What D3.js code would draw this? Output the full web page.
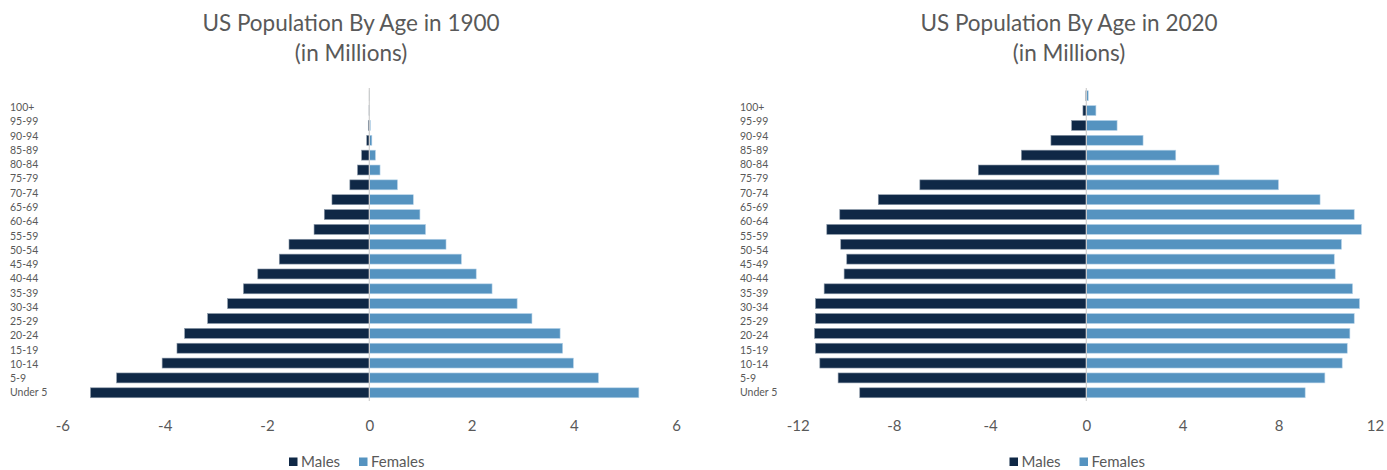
<!DOCTYPE html>
<html>
<head>
<meta charset="utf-8">
<script src="https://cdn.jsdelivr.net/npm/d3@7"></script>
<style>
  body { margin: 0; background: #fff; }
  text { font-family: Lato, "Open Sans", sans-serif; fill: #595959; }
</style>
</head>
<body>
<div id="chart"></div>
<script>
// age groups, youngest first
var ageGroups = ["Under 5", "5-9", "10-14", "15-19", "20-24", "25-29", "30-34", "35-39",
  "40-44", "45-49", "50-54", "55-59", "60-64", "65-69", "70-74", "75-79", "80-84",
  "85-89", "90-94", "95-99", "100+"];

// 1900, millions
var males1900 = [5.45, 4.94, 4.05, 3.76, 3.61, 3.16, 2.77, 2.46, 2.18, 1.76, 1.57,
  1.08, 0.88, 0.73, 0.38, 0.23, 0.15, 0.05, 0.02, 0.005, 0.001];
var females1900 = [5.27, 4.48, 3.99, 3.78, 3.73, 3.18, 2.89, 2.40, 2.09, 1.80, 1.50,
  1.10, 0.99, 0.86, 0.55, 0.21, 0.12, 0.05, 0.02, 0.005, 0.001];

// 2020, millions
var males2020 = [9.42, 10.32, 11.08, 11.26, 11.30, 11.26, 11.26, 10.90, 10.07, 9.96, 10.21,
  10.79, 10.25, 8.65, 6.92, 4.49, 2.70, 1.47, 0.61, 0.14, 0.02];
var females2020 = [9.10, 9.92, 10.64, 10.85, 10.96, 11.14, 11.36, 11.07, 10.35, 10.31, 10.61,
  11.44, 11.14, 9.72, 7.99, 5.52, 3.72, 2.36, 1.28, 0.40, 0.08];

var ticks1900 = [-6, -4, -2, 0, 2, 4, 6];
var ticks2020 = [-12, -8, -4, 0, 4, 8, 12];

var maleColor = "#0f2846";
var femaleColor = "#5593c0";

var svg = d3.select("#chart")
  .append("svg")
  .attr("width", 1387)
  .attr("height", 470);

function drawPyramid(opts) {
  var rows = ageGroups.map(function(a, i) {
    return { age: a, male: opts.males[i], female: opts.females[i] };
  });
  var order = ageGroups.slice().reverse();

  var x = d3.scaleLinear()
    .domain([opts.ticks[0], opts.ticks[opts.ticks.length - 1]])
    .range([opts.x0, opts.x1]);

  // bars
  var y = d3.scaleBand()
    .domain(order)
    .range([88.3, 400.2])
    .paddingInner(0.33)
    .paddingOuter(0.165);

  // category labels sit on their own (slightly tighter) grid
  var yLab = d3.scalePoint()
    .domain(order)
    .range([107.5, 392.7]);

  var g = svg.append("g");

  g.append("text")
    .attr("x", opts.titleX)
    .attr("y", 31)
    .attr("text-anchor", "middle")
    .style("font-size", "22.5px")
    .text(opts.title);
  g.append("text")
    .attr("x", opts.titleX)
    .attr("y", 61)
    .attr("text-anchor", "middle")
    .style("font-size", "22.5px")
    .text("(in Millions)");

  g.selectAll(".male")
    .data(rows)
    .enter()
    .append("rect")
    .attr("class", "male")
    .attr("x", d => x(-d.male))
    .attr("y", d => y(d.age))
    .attr("width", d => x(0) - x(-d.male))
    .attr("height", y.bandwidth())
    .attr("fill", maleColor)
    .attr("stroke", "#8a98a8")
    .attr("stroke-width", 0.6);

  g.selectAll(".female")
    .data(rows)
    .enter()
    .append("rect")
    .attr("class", "female")
    .attr("x", x(0))
    .attr("y", d => y(d.age))
    .attr("width", d => x(d.female) - x(0))
    .attr("height", y.bandwidth())
    .attr("fill", femaleColor)
    .attr("stroke", "#b7d3e8")
    .attr("stroke-width", 0.6);

  // zero line
  g.append("line")
    .attr("x1", x(0)).attr("x2", x(0))
    .attr("y1", 88).attr("y2", 401)
    .attr("stroke", "#cfcfcf")
    .attr("stroke-width", 1.2);

  g.selectAll(".age")
    .data(order)
    .enter()
    .append("text")
    .attr("class", "age")
    .attr("x", opts.labelX)
    .attr("y", d => yLab(d))
    .attr("dy", "0.35em")
    .style("font-size", "10.5px")
    .text(d => d);

  var axis = g.append("g")
    .attr("transform", "translate(0, 420)")
    .call(d3.axisBottom(x).tickValues(opts.ticks).tickSize(0).tickPadding(0).tickFormat(d => String(d)));
  axis.select(".domain").remove();
  axis.selectAll("text")
    .attr("dy", "0.71em")
    .style("font-size", "15px")
    .style("font-family", "Lato, sans-serif")
    .attr("fill", "#595959");

  // legend
  var leg = g.append("g").attr("transform", "translate(" + opts.legendX + ", 462)");
  [["Males", maleColor, 0], ["Females", femaleColor, 70]].forEach(function(item) {
    leg.append("rect")
      .attr("x", item[2])
      .attr("y", -4.5)
      .attr("width", 8.5)
      .attr("height", 8.5)
      .attr("fill", item[1]);
    leg.append("text")
      .attr("x", item[2] + 12)
      .attr("y", 0)
      .attr("dy", "0.35em")
      .style("font-size", "15px")
      .text(item[0]);
  });
}

drawPyramid({
  title: "US Population By Age in 1900",
  males: males1900, females: females1900, ticks: ticks1900,
  x0: 62.4, x1: 676.2, titleX: 351, labelX: 10, legendX: 289
});

drawPyramid({
  title: "US Population By Age in 2020",
  males: males2020, females: females2020, ticks: ticks2020,
  x0: 797.7, x1: 1374.9, titleX: 1069, labelX: 740, legendX: 1009.5
});
</script>
</body>
</html>
